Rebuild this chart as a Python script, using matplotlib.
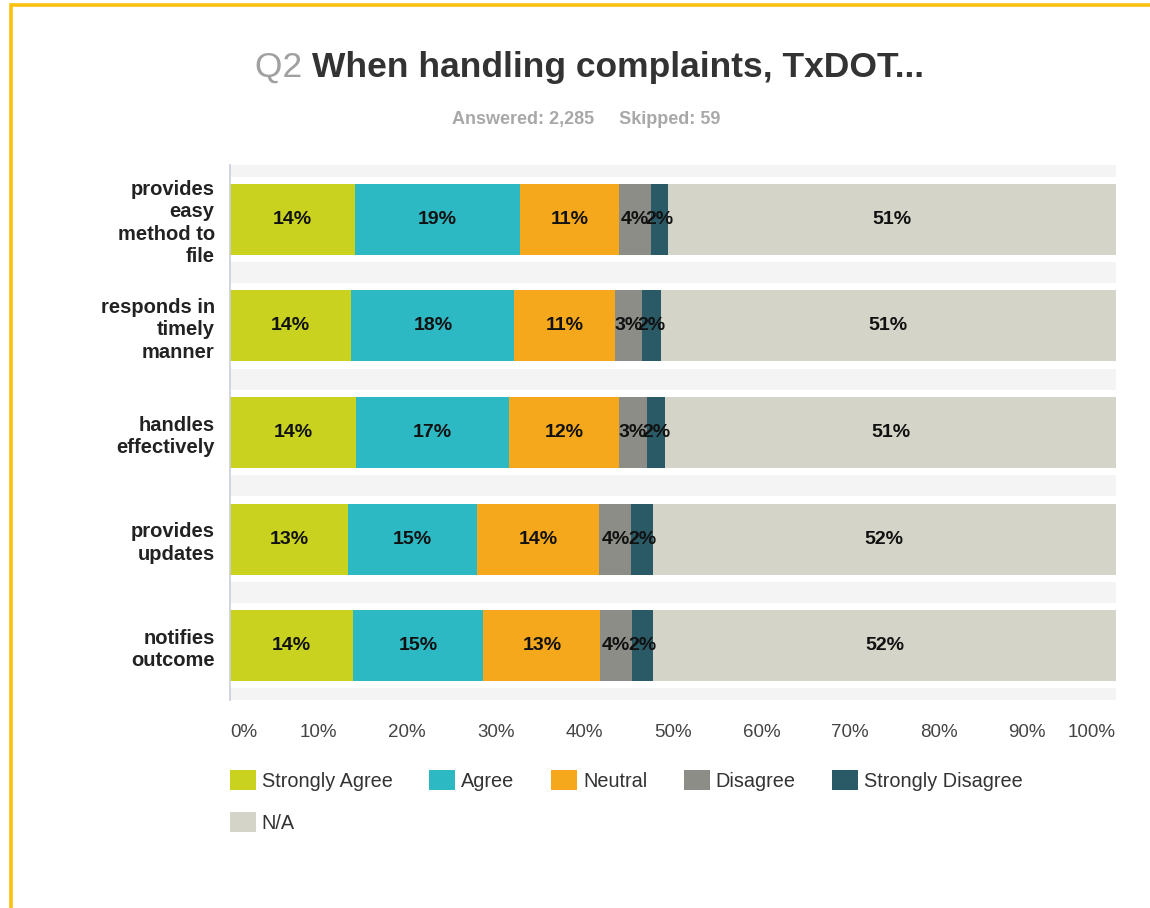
import numpy as np
import matplotlib.pyplot as plt
from matplotlib.patches import Rectangle

plt.rcParams['font.family'] = ['Liberation Sans', 'DejaVu Sans']

# Survey data (percent of respondents)
rows = ['provides\neasy\nmethod to\nfile',
        'responds in\ntimely\nmanner',
        'handles\neffectively',
        'provides\nupdates',
        'notifies\noutcome']
categories = ['Strongly Agree', 'Agree', 'Neutral', 'Disagree', 'Strongly Disagree', 'N/A']
strongly_agree = [14.1, 13.7, 14.2, 13.3, 13.9]
agree = [18.6, 18.4, 17.3, 14.6, 14.7]
neutral = [11.2, 11.3, 12.4, 13.8, 13.2]
disagree = [3.6, 3.1, 3.2, 3.6, 3.6]
strongly_disagree = [1.9, 2.1, 2.0, 2.4, 2.4]
na = [50.6, 51.4, 50.9, 52.3, 52.2]
colors = ['#c8d21f', '#2db9c4', '#f6a81c', '#8c8d86', '#2a5a66', '#d4d4c8']
xticks = list(range(0, 101, 10))

series = [strongly_agree, agree, neutral, disagree, strongly_disagree, na]

fig = plt.figure(figsize=(11.5, 9.08), dpi=100)
ax = fig.add_axes([0.2, 0.229, 0.7704, 0.5893])

y = np.arange(len(rows))

# faint background bands between the rows
ax.barh(np.arange(len(rows) + 1) - 0.5, 100, height=0.2, left=0,
        color='#f4f4f4', zorder=0)

left = np.zeros(len(rows))
handles = []
for vals, name, c in zip(series, categories, colors):
    vals = np.array(vals)
    b = ax.barh(y, vals, left=left, height=0.667, color=c, label=name, zorder=2)
    handles.append(b)
    for yi, (l, v) in enumerate(zip(left, vals)):
        ax.text(l + v / 2, yi, f'{v:.0f}%', ha='center', va='center',
                fontsize=14, fontweight='bold', color='#111111', zorder=3)
    left += vals

ax.set_xlim(0, 100)
ax.set_ylim(len(rows) - 0.49, -0.51)
ax.set_yticks(y)
ax.set_yticklabels(rows, fontsize=14.5, fontweight='bold', color='#222222',
                   linespacing=1.23)
ax.set_xticks(xticks)
ax.set_xticklabels([f'{t}%' for t in xticks], fontsize=13.5, color='#444444')
xl = ax.get_xticklabels()
xl[0].set_ha('left')
xl[-1].set_ha('right')
ax.tick_params(axis='x', length=0, pad=17)
ax.tick_params(axis='y', length=0, pad=11)
for s in ['top', 'right', 'bottom']:
    ax.spines[s].set_visible(False)
ax.spines['left'].set_color('#c9ceda')
ax.spines['left'].set_linewidth(1.2)

# legend: order so N/A lands alone on the second row
order = [0, 5, 1, 2, 3, 4]
leg = fig.legend([handles[i] for i in order], [categories[i] for i in order],
                 ncol=5, loc='upper left', bbox_to_anchor=(0.2, 0.152),
                 bbox_transform=fig.transFigure, frameon=False,
                 fontsize=14.3, handlelength=1.3, handleheight=1.15,
                 handletextpad=0.3, columnspacing=1.85, labelspacing=1.08,
                 borderaxespad=0, borderpad=0)
for t in leg.get_texts():
    t.set_color('#333333')

# title: grey question number followed by bold text
q = fig.text(0.222, 0.915, 'Q2 ', fontsize=25.5, color='#a0a0a0', va='baseline')
ax.annotate('When handling complaints, TxDOT...', xy=(1, 0), xycoords=q,
            fontsize=25.5, fontweight='bold', color='#333333', va='bottom')
fig.text(0.51, 0.868, 'Answered: 2,285     Skipped: 59', fontsize=13,
         fontweight='bold', color='#a8a8a8', ha='center', va='center')

# yellow frame along top and left edges
fig.patches.append(Rectangle((10.5 / 1150, -0.05), 1.2, 1.05 - 5.5 / 908,
                             transform=fig.transFigure, fill=False,
                             edgecolor='#fdc00f', linewidth=2.6))

fig.savefig('out.png', dpi=100)
